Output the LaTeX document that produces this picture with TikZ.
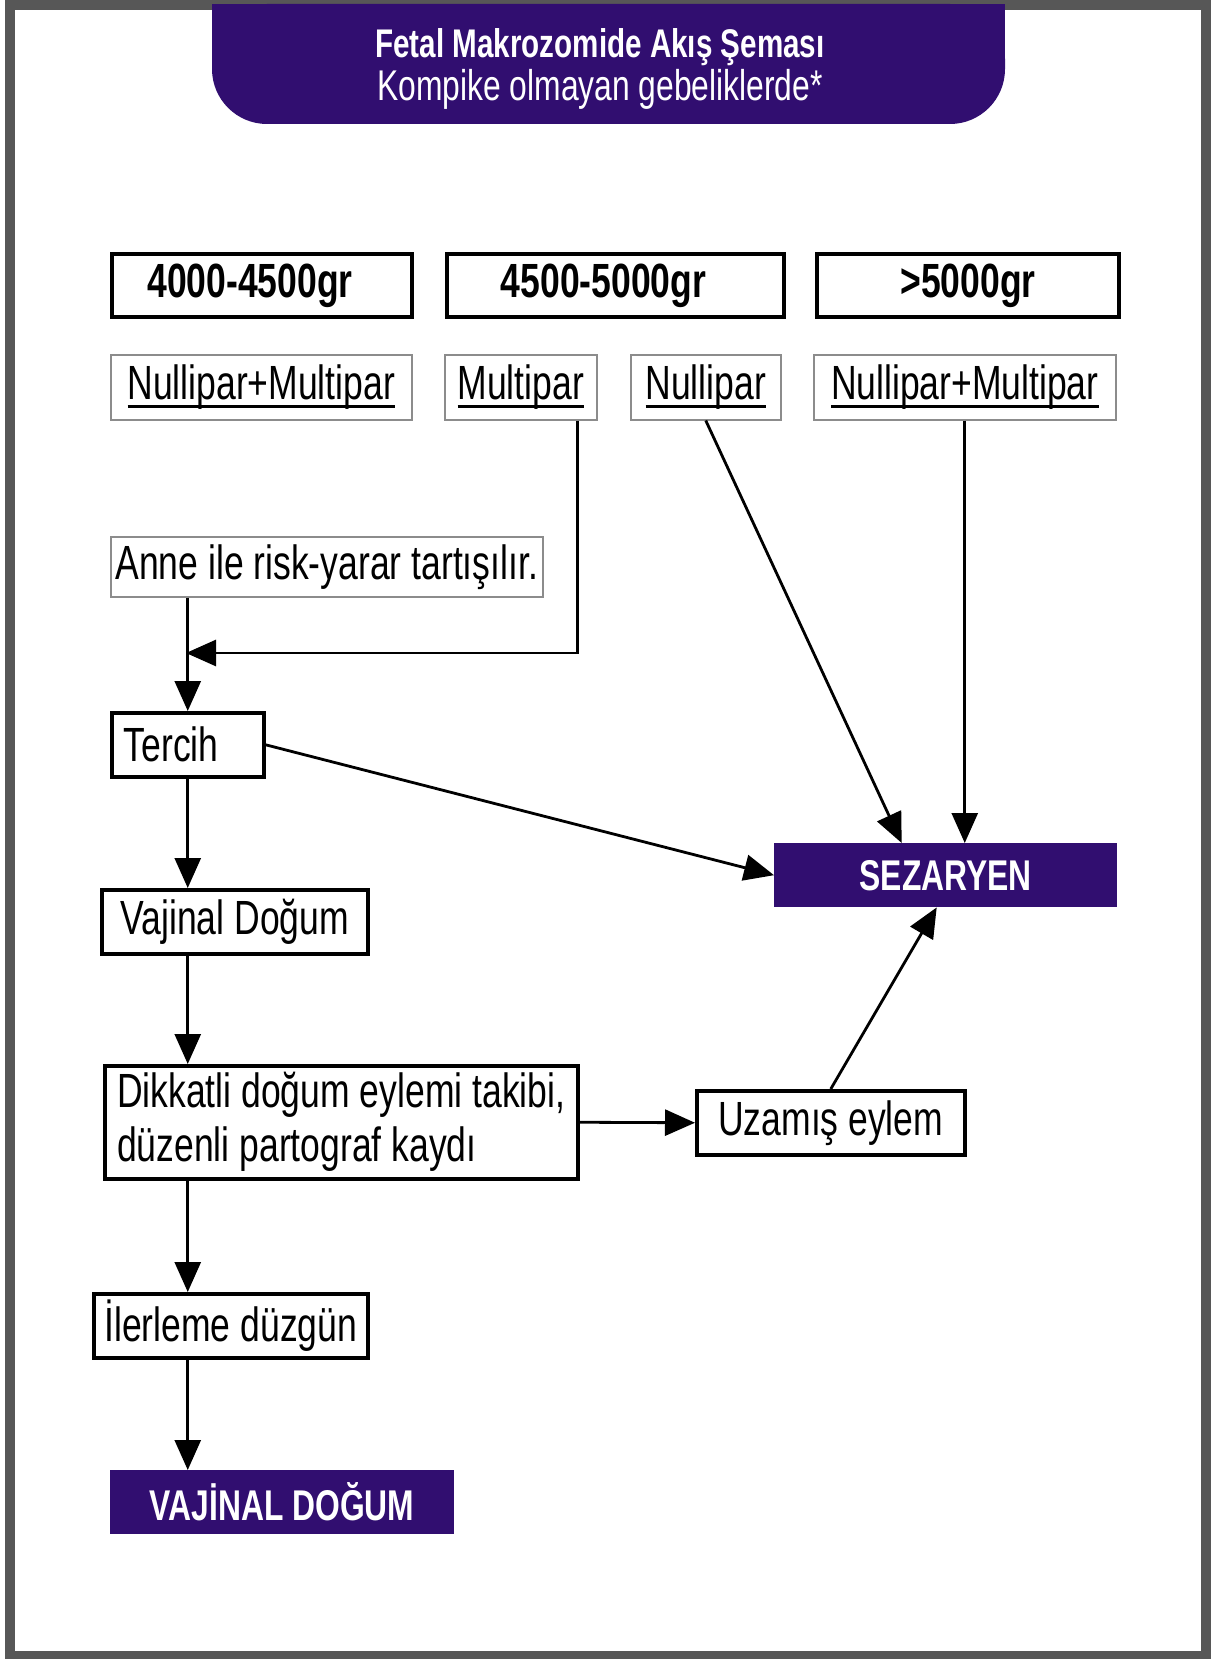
\documentclass[tikz,border=0pt]{standalone}
\usepackage{fontspec}
\setmainfont{Liberation Sans}[FakeStretch=0.74]
\usetikzlibrary{arrows.meta}
\definecolor{flowpurple}{RGB}{49,14,112}
\definecolor{framegray}{RGB}{87,87,87}
\definecolor{linegray}{RGB}{140,140,140}
\newcommand{\ulbar}[1]{\setbox0\hbox{#1}\leavevmode\rlap{\raisebox{-8pt}{\rule{\wd0}{2.8pt}}}\box0}
\newcommand{\padr}[1]{\hbox to #1{}}

\tikzset{
  rangebox/.style={draw, line width=4pt, anchor=north west, minimum height=63pt,
    inner sep=0pt, font=\fontsize{48}{52}\selectfont\bfseries},
  groupbox/.style={draw=linegray, line width=1.5pt, anchor=north west, minimum height=65pt,
    inner sep=0pt, font=\fontsize{48}{52}\selectfont},
  stepbox/.style={draw, line width=3.5pt, anchor=north west, minimum height=64pt,
    inner sep=0pt, font=\fontsize{48}{54}\selectfont},
  notebox/.style={draw=linegray, line width=1.5pt, anchor=north west, minimum height=60pt,
    inner sep=0pt, font=\fontsize{48}{52}\selectfont},
  endbox/.style={fill=flowpurple, text=white, anchor=north west, minimum height=64pt,
    inner sep=0pt, font=\fontsize{43}{46}\selectfont\bfseries},
  arr/.style={-{Triangle[length=30pt,width=26pt]}, line width=2.8pt}
}

\begin{document}
\begin{tikzpicture}[x=1pt,y=-1pt]
    \useasboundingbox (0,0) rectangle (1210,1659);
    \draw[framegray, line width=10pt] (9.5,5) rectangle (1206,1656);

    % header tab
    \fill[flowpurple] (212,4) rectangle (1005,70);
    \fill[flowpurple, rounded corners=55pt] (212,4) rectangle (1005,124);
    \node[text=white, font=\fontsize{40}{44}\selectfont\bfseries] (title) at (600,47) {Fetal Makrozomide Akış Şeması};
    \node[text=white, font=\fontsize{43}{46}\selectfont] (subtitle) at (600,89) {Kompike olmayan gebeliklerde*};

    % weight ranges
    \node[rangebox, minimum width=300pt] (w1) at (110,252) {4000-4500gr\padr{24pt}};
    \node[rangebox, minimum width=337pt] (w2) at (445,252) {4500-5000gr\padr{24pt}};
    \node[rangebox, minimum width=302pt] (w3) at (815,252) {>5000gr};

    \node[groupbox, minimum width=301pt] (nm1) at (110,354) {\ulbar{Nullipar+Multipar}};
    \node[groupbox, minimum width=152pt] (mp) at (444,354) {\ulbar{Multipar}};
    \node[groupbox, minimum width=150pt] (np) at (630,354) {\ulbar{Nullipar}};
    \node[groupbox, minimum width=302pt] (nm2) at (813,354) {\ulbar{Nullipar+Multipar}};

    \node[notebox, minimum width=432pt] (anne) at (110,536) {Anne ile risk-yarar tartışılır.};
    \node[stepbox, inner xsep=12pt, text width=128pt, align=left] (tercih) at (110,711) {Tercih};
    \node[endbox, minimum width=343pt] (sez) at (774,843) {SEZARYEN};
    \node[stepbox, minimum width=266pt] (vd) at (100,888) {Vajinal Doğum};
    \node[stepbox, align=left, minimum width=473pt, minimum height=113pt] (dk) at (103,1064)
        {Dikkatli doğum eylemi takibi,\\düzenli partograf kaydı};
    \node[stepbox, minimum width=268pt] (uz) at (695,1089) {Uzamış eylem};
    \node[stepbox, minimum width=274pt] (il) at (92,1292) {İlerleme düzgün};
    \node[endbox, minimum width=344pt] (vdg) at (110,1470) {VAJİNAL DOĞUM};

    \coordinate (join) at (186,653);

    \draw[arr] ([xshift=-20pt]mp.south east) |- (join);
    \draw[arr] (tercih.north |- anne.south) -- (tercih.north);
    \draw[arr] (tercih.east) -- (sez.west);
    \draw[arr] (np.south) -- ([xshift=-44pt]sez.north);
    \draw[arr] (nm2.south) -- (nm2.south |- sez.north);
    \draw[arr] (tercih.south) -- (tercih.south |- vd.north);
    \draw[arr] (tercih.south |- vd.south) -- (tercih.south |- dk.north);
    \draw[arr] (dk.east) -- (uz.west);
    \draw[arr] (uz.north) -- ([xshift=-9pt]sez.south);
    \draw[arr] (tercih.south |- dk.south) -- (tercih.south |- il.north);
    \draw[arr] (tercih.south |- il.south) -- (tercih.south |- vdg.north);
\end{tikzpicture}
\end{document}
